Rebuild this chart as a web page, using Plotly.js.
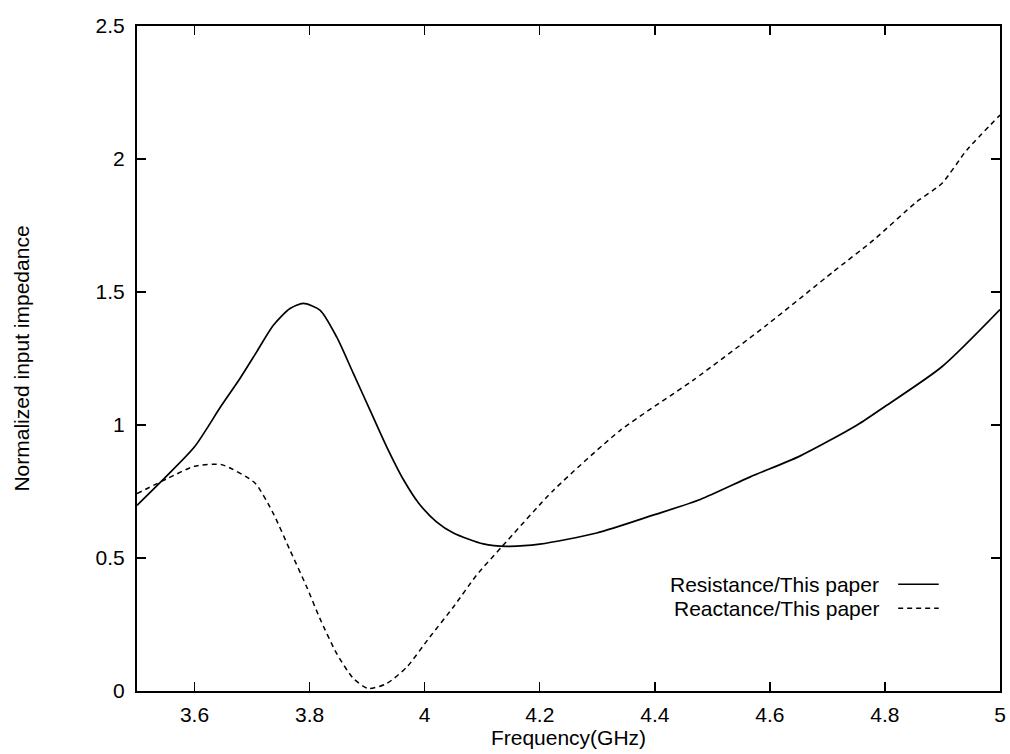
<!DOCTYPE html>
<html>
<head>
<meta charset="utf-8">
<script src="https://cdn.plot.ly/plotly-3.0.1.min.js"></script>
<style>html,body{margin:0;padding:0;background:#fff;}#chart{width:1010px;height:754px;}</style>
</head>
<body>
<div id="chart"></div>
<script>
// Frequency (GHz) and normalized impedance values
const resFreq = [3.5, 3.55, 3.6, 3.647, 3.679, 3.708, 3.737, 3.766, 3.789, 3.818, 3.847, 3.876, 3.905, 3.934, 3.963, 3.99, 4.02, 4.05, 4.102, 4.143, 4.2, 4.299, 4.397, 4.479, 4.566, 4.652, 4.751, 4.803, 4.899, 5.0];
const resistance = [0.698, 0.805, 0.918, 1.074, 1.175, 1.275, 1.375, 1.438, 1.457, 1.432, 1.331, 1.194, 1.056, 0.918, 0.795, 0.705, 0.637, 0.594, 0.553, 0.544, 0.552, 0.594, 0.661, 0.720, 0.805, 0.883, 0.999, 1.074, 1.219, 1.434];

const reaFreq = [3.5, 3.554, 3.6, 3.647, 3.705, 3.737, 3.766, 3.795, 3.818, 3.847, 3.876, 3.902, 3.934, 3.969, 4.009, 4.05, 4.09, 4.134, 4.224, 4.34, 4.467, 4.594, 4.71, 4.78, 4.855, 4.899, 4.942, 5.0];
const reactance = [0.742, 0.80, 0.845, 0.851, 0.782, 0.667, 0.529, 0.391, 0.272, 0.141, 0.047, 0.009, 0.028, 0.09, 0.203, 0.316, 0.435, 0.542, 0.755, 0.98, 1.169, 1.375, 1.576, 1.695, 1.839, 1.908, 2.033, 2.165];

const seriesNames = ["Resistance/This paper", "Reactance/This paper"];
const xTicks = [3.6, 3.8, 4, 4.2, 4.4, 4.6, 4.8, 5];
const yTicks = [0, 0.5, 1, 1.5, 2, 2.5];

const font = "Liberation Sans, Arial, Helvetica, sans-serif";
const fsize = 21;

const traces = [
  {x: resFreq, y: resistance, mode: "lines", name: seriesNames[0],
   line: {color: "#000", width: 1.7, shape: "spline", smoothing: 0.7}},
  {x: reaFreq, y: reactance, mode: "lines", name: seriesNames[1],
   line: {color: "#000", width: 1.5, dash: "5px,4px", shape: "spline", smoothing: 0.6}}
];

const axisCommon = {
  showline: true, linecolor: "#000", linewidth: 2, mirror: "ticks",
  ticks: "inside", ticklen: 9, tickwidth: 1.5, tickcolor: "#000",
  showgrid: false, zeroline: false,
  tickfont: {family: font, size: fsize, color: "#000"}
};

const layout = {
  width: 1010, height: 754,
  margin: {l: 137, r: 10, t: 26, b: 63},
  paper_bgcolor: "#fff", plot_bgcolor: "#fff",
  showlegend: false,
  font: {family: font, color: "#000"},
  xaxis: Object.assign({}, axisCommon, {
    range: [3.5, 5], tickvals: xTicks, ticktext: xTicks.map(String),
    ticklabelstandoff: 4,
    title: {text: "Frequency(GHz)", font: {family: font, size: fsize, color: "#000"}, standoff: 4}
  }),
  yaxis: Object.assign({}, axisCommon, {
    range: [0, 2.5], tickvals: yTicks, ticktext: yTicks.map(String),
    ticklabelstandoff: 6,
    title: {text: "Normalized input impedance", font: {family: font, size: fsize, color: "#000"}, standoff: 60}
  }),
  annotations: [
    {xref: "paper", yref: "paper", x: 0.862, y: 0.1605, xanchor: "right", yanchor: "middle",
     text: seriesNames[0], showarrow: false, font: {family: font, size: fsize, color: "#000"}},
    {xref: "paper", yref: "paper", x: 0.862, y: 0.1244, xanchor: "right", yanchor: "middle",
     text: seriesNames[1], showarrow: false, font: {family: font, size: fsize, color: "#000"}}
  ],
  shapes: [
    {type: "line", xref: "paper", yref: "paper", x0: 0.882, x1: 0.929, y0: 0.1605, y1: 0.1605,
     line: {color: "#000", width: 1.7}},
    {type: "line", xref: "paper", yref: "paper", x0: 0.882, x1: 0.929, y0: 0.1244, y1: 0.1244,
     line: {color: "#000", width: 1.5, dash: "5px,4px"}}
  ]
};

Plotly.newPlot("chart", traces, layout, {displayModeBar: false, staticPlot: true});
</script>
</body>
</html>
